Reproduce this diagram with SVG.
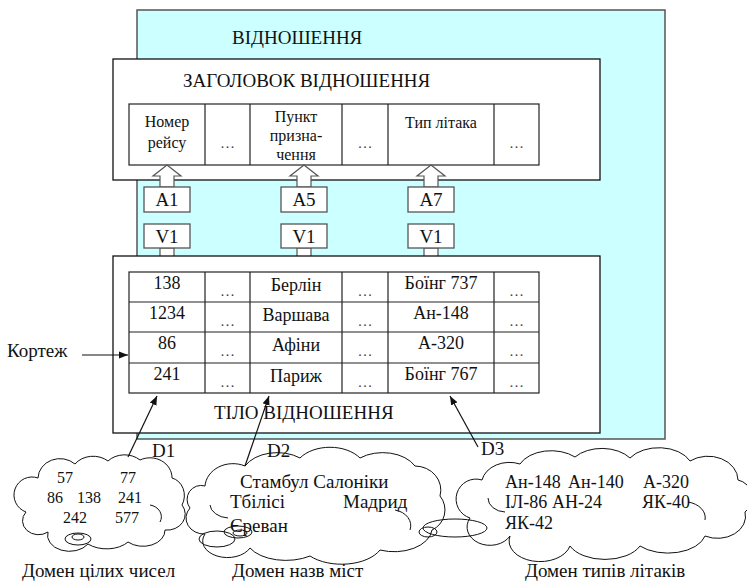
<svg xmlns="http://www.w3.org/2000/svg" width="747" height="583" viewBox="0 0 747 583">
<style>
text{font-family:"Liberation Serif","Times New Roman",serif;fill:#111}
.t19{font-size:19px}
.t18{font-size:18px}
.t16{font-size:16px}
.c{text-anchor:middle}
.dots{font-size:15px;fill:#444;text-anchor:middle}
.box{fill:#fff;stroke:#111;stroke-width:1.3}
.grid{fill:none;stroke:#222;stroke-width:1.2}
.lbl{fill:#fff;stroke:#555;stroke-width:1.3}
.harrow{fill:#fff;stroke:#555;stroke-width:1.2}
.cloud{fill:#fff;stroke:#111;stroke-width:1}
.tail{fill:none;stroke:#111;stroke-width:1}
.conn{stroke:#111;stroke-width:1.2;fill:none}
</style>
<defs>
<marker id="ah" viewBox="0 0 10 10" refX="10" refY="5" markerWidth="9" markerHeight="9" markerUnits="userSpaceOnUse" orient="auto">
<path d="M0,1 L10,5 L0,9 Z" fill="#111"/>
</marker>
</defs>

<g id="relation">
<rect x="137" y="10" width="528" height="429" fill="#ccffff" stroke="#555" stroke-width="1.5"/>
<text class="t19" x="232" y="44">ВІДНОШЕННЯ</text>
</g>

<g id="header">
<rect class="box" x="113" y="59" width="487" height="121"/>
<text class="t19" x="183" y="87">ЗАГОЛОВОК ВІДНОШЕННЯ</text>
<rect class="grid" x="129" y="104" width="410" height="61"/>
<path class="grid" d="M205,104V165M250,104V165M342,104V165M388,104V165M494,104V165"/>
<text class="t16 c" x="167" y="127">Номер</text>
<text class="t16 c" x="167" y="148">рейсу</text>
<text class="dots" x="227.5" y="148">…</text>
<text class="t16 c" x="296" y="122">Пункт</text>
<text class="t16 c" x="296" y="141">призна-</text>
<text class="t16 c" x="296" y="160">чення</text>
<text class="dots" x="365" y="148">…</text>
<text class="t16 c" x="441" y="128">Тип літака</text>
<text class="dots" x="516.5" y="148">…</text>
</g>

<g id="attr-A1">
<polygon class="harrow" points="160,187 160,176 153,176 167,165 181,176 174,176 174,187"/>
<rect class="lbl" x="144" y="187" width="46" height="25"/>
<text class="t19 c" x="167" y="206">A1</text>
</g>
<g id="attr-A5">
<polygon class="harrow" points="297,187 297,176 290,176 304,165 318,176 311,176 311,187"/>
<rect class="lbl" x="281" y="187" width="46" height="25"/>
<text class="t19 c" x="304" y="206">A5</text>
</g>
<g id="attr-A7">
<polygon class="harrow" points="424,187 424,176 417,176 431,165 445,176 438,176 438,187"/>
<rect class="lbl" x="408" y="187" width="46" height="25"/>
<text class="t19 c" x="431" y="206">A7</text>
</g>

<g id="val-V1a">
<polygon class="harrow" points="160,248 160,260 153,260 167,272 181,260 174,260 174,248"/>
<rect class="lbl" x="144" y="224" width="46" height="24"/>
<text class="t19 c" x="167" y="243">V1</text>
</g>
<g id="val-V1b">
<polygon class="harrow" points="297,248 297,260 290,260 304,272 318,260 311,260 311,248"/>
<rect class="lbl" x="281" y="224" width="46" height="24"/>
<text class="t19 c" x="304" y="243">V1</text>
</g>
<g id="val-V1c">
<polygon class="harrow" points="424,248 424,260 417,260 431,272 445,260 438,260 438,248"/>
<rect class="lbl" x="408" y="224" width="46" height="24"/>
<text class="t19 c" x="431" y="243">V1</text>
</g>

<g id="body">
<rect class="box" x="113" y="256" width="487" height="177"/>
<rect class="grid" x="129" y="272" width="410" height="121"/>
<path class="grid" d="M205,272V393M250,272V393M342,272V393M388,272V393M494,272V393M129,302H539M129,332H539M129,363H539"/>
<g class="t18">
<text class="c" x="167" y="289">138</text>
<text class="c" x="296" y="291">Берлін</text>
<text class="c" x="441" y="289">Боїнг 737</text>
<text class="c" x="167" y="319">1234</text>
<text class="c" x="296" y="321">Варшава</text>
<text class="c" x="441" y="319">Ан-148</text>
<text class="c" x="167" y="349">86</text>
<text class="c" x="296" y="351">Афіни</text>
<text class="c" x="441" y="349">А-320</text>
<text class="c" x="167" y="380">241</text>
<text class="c" x="296" y="382">Париж</text>
<text class="c" x="441" y="380">Боїнг 767</text>
</g>
<text class="dots" x="227.5" y="296">…</text><text class="dots" x="365" y="296">…</text><text class="dots" x="516.5" y="296">…</text>
<text class="dots" x="227.5" y="326">…</text><text class="dots" x="365" y="326">…</text><text class="dots" x="516.5" y="326">…</text>
<text class="dots" x="227.5" y="356">…</text><text class="dots" x="365" y="356">…</text><text class="dots" x="516.5" y="356">…</text>
<text class="dots" x="227.5" y="387">…</text><text class="dots" x="365" y="387">…</text><text class="dots" x="516.5" y="387">…</text>
<text class="t19" x="214" y="419">ТІЛО ВІДНОШЕННЯ</text>
</g>

<g id="tuple-label">
<text class="t19" x="7" y="357">Кортеж</text>
</g>

<g id="domain-int">
<path class="cloud" d="M38,478 A22,20 0 0 1 75,464 A22,18 0 0 1 108,461 A22,18 0 0 1 140,460 A22,20 0 0 1 172,478 A16,18 0 0 1 182,505 A18,16 0 0 1 165,530 A22,16 0 0 1 128,542 A26,16 0 0 1 88,544 A22,16 0 0 1 48,532 A16,14 0 0 1 26,512 A14,14 0 0 1 38,478 Z"/>
<path class="tail" d="M150,505 A14,12 0 0 1 160,522"/>
<ellipse class="tail" cx="78" cy="539" rx="13" ry="6"/>
<ellipse class="tail" cx="78" cy="537" rx="6" ry="3"/>
<g class="t16">
<text x="57" y="483">57</text>
<text x="120" y="483">77</text>
<text x="47" y="503">86</text>
<text x="77" y="503">138</text>
<text x="118" y="503">241</text>
<text x="63" y="523">242</text>
<text x="115" y="523">577</text>
</g>
<text class="t19" x="22" y="577">Домен цілих чисел</text>
</g>

<g id="domain-city">
<path class="cloud" d="M205,486 A28,24 0 0 1 245,466 A36,24 0 0 1 300,458 A36,24 0 0 1 360,458 A36,24 0 0 1 415,466 A26,24 0 0 1 440,496 A22,22 0 0 1 432,530 A38,24 0 0 1 380,550 A42,24 0 0 1 310,556 A40,22 0 0 1 250,548 A24,16 0 0 1 205,534 A18,16 0 0 1 190,508 A14,14 0 0 1 205,486 Z"/>
<path class="tail" d="M210,505 A20,14 0 0 0 228,518"/>
<path class="tail" d="M395,510 A20,16 0 0 1 410,530"/>
<ellipse class="tail" cx="217" cy="539" rx="18" ry="8"/>
<ellipse class="tail" cx="238" cy="532" rx="14" ry="6"/>
<ellipse class="tail" cx="240" cy="533" rx="7" ry="3"/>
<g class="t19">
<text x="240" y="488">Стамбул Салоніки</text>
<text x="230" y="508">Тбілісі</text>
<text x="343" y="508">Мадрид</text>
<text x="230" y="532">Єреван</text>
</g>
<text class="t19" x="232" y="577">Домен назв міст</text>
</g>

<g id="domain-plane">
<path class="cloud" d="M482,480 A28,22 0 0 1 520,464 A34,22 0 0 1 575,457 A34,22 0 0 1 630,458 A34,22 0 0 1 690,461 A30,24 0 0 1 738,480 A18,18 0 0 1 745,512 A28,22 0 0 1 705,536 A38,22 0 0 1 640,546 A38,22 0 0 1 570,546 A30,20 0 0 1 510,536 A20,16 0 0 1 470,518 A14,14 0 0 1 482,480 Z"/>
<path class="tail" d="M488,498 A18,14 0 0 0 505,512"/>
<path class="tail" d="M688,502 A22,16 0 0 1 705,520"/>
<ellipse class="tail" cx="455" cy="528" rx="32" ry="9"/>
<ellipse class="tail" cx="428" cy="532" rx="9" ry="5"/>
<g class="t18">
<text x="505" y="488">Ан-148</text>
<text x="568" y="488">Ан-140</text>
<text x="643" y="488">А-320</text>
<text x="505" y="508">ІЛ-86</text>
<text x="552" y="508">АН-24</text>
<text x="642" y="508">ЯК-40</text>
<text x="505" y="529">ЯК-42</text>
</g>
<text class="t19" x="525" y="577">Домен типів літаків</text>
</g>

<g id="connectors">
<line class="conn" x1="82" y1="355" x2="128" y2="355" marker-end="url(#ah)"/>
<line class="conn" x1="128" y1="457" x2="157" y2="396" marker-end="url(#ah)"/>
<line class="conn" x1="245" y1="466" x2="269" y2="396" marker-end="url(#ah)"/>
<line class="conn" x1="478" y1="447" x2="450" y2="396" marker-end="url(#ah)"/>
<text class="t19" x="152" y="457">D1</text>
<text class="t19" x="267" y="457">D2</text>
<text class="t19" x="481" y="455">D3</text>
</g>
</svg>
